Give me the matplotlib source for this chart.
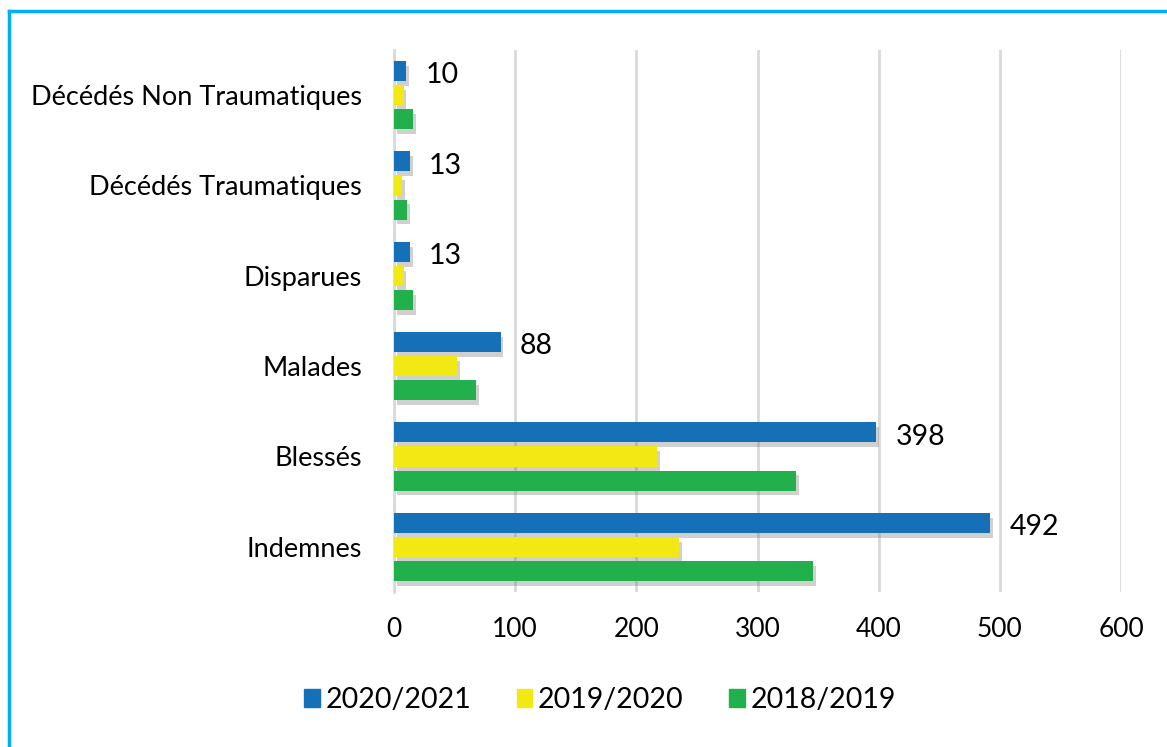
import matplotlib
matplotlib.use("Agg")
import matplotlib.pyplot as plt
import matplotlib.patheffects as pe
from matplotlib.lines import Line2D
from matplotlib.patches import Patch
import numpy as np

plt.rcParams['font.family'] = ['Lato', 'DejaVu Sans']

categories = ["Indemnes", "Blessés", "Malades", "Disparues",
              "Décédés Traumatiques", "Décédés Non Traumatiques"]
series_names = ["2020/2021", "2019/2020", "2018/2019"]
v_2020_2021 = [492, 398, 88, 13, 13, 10]
v_2019_2020 = [235, 217, 52, 8, 7, 8]
v_2018_2019 = [346, 332, 68, 16, 11, 16]
colors = ["#1570b8", "#f2e813", "#21b04b"]
x_ticks = [0, 100, 200, 300, 400, 500, 600]

W, H = 1167, 747
fig = plt.figure(figsize=(W / 100, H / 100), dpi=100)
ax = fig.add_axes([394 / W, 1 - 592 / H, (1121 - 394) / W, (592 - 50) / H])

y = np.arange(len(categories))
pitch = 0.266
h = 0.222
shadow = [pe.SimplePatchShadow(offset=(2, -3.5), shadow_rgbFace="#666666", alpha=0.3),
          pe.Normal()]
all_vals = [v_2020_2021, v_2019_2020, v_2018_2019]
offsets = [pitch, 0, -pitch]
for vals, off, c in zip(all_vals, offsets, colors):
    bars = ax.barh(y + off, vals, height=h, color=c, zorder=3)
    for b in bars:
        b.set_path_effects(shadow)

for yi, v in zip(y, v_2020_2021):
    ax.annotate(str(v), xy=(v, yi + pitch), xytext=(14, -3), textcoords="offset points",
                va="center", ha="left", fontsize=20.5, color="black")

ax.set_xlim(0, 600)
ax.set_ylim(-0.5, len(categories) - 0.5)
ax.set_xticks(x_ticks)
ax.set_xticklabels([str(t) for t in x_ticks], fontsize=19)
ax.set_yticks(y)
ax.set_yticklabels(categories, fontsize=19.5)
ax.tick_params(axis="both", length=0)
ax.tick_params(axis="x", pad=18)
ax.tick_params(axis="y", pad=23)
ax.grid(axis="x", color="#d9d9d9", linewidth=2, zorder=0)
ax.set_axisbelow(True)
for s in ["top", "right", "bottom"]:
    ax.spines[s].set_visible(False)
ax.spines["left"].set_color("#d9d9d9")
ax.spines["left"].set_linewidth(2)

handles = [Patch(facecolor=c, edgecolor=c) for c in colors]
fig.legend(handles, series_names, loc="center", bbox_to_anchor=(600 / W, 1 - 700 / H),
           ncol=3, frameon=False, fontsize=20.5, handlelength=0.55, handleheight=0.55,
           handletextpad=0.2, columnspacing=1.6)

border_c = "#00b0f0"
fig.add_artist(Line2D([9 / W, 9 / W], [1 - 11 / H, 0], color=border_c, linewidth=2.5))
fig.add_artist(Line2D([9 / W, 1], [1 - 11 / H, 1 - 11 / H], color=border_c, linewidth=2.5))

fig.savefig("out.png", dpi=100, facecolor="white")
